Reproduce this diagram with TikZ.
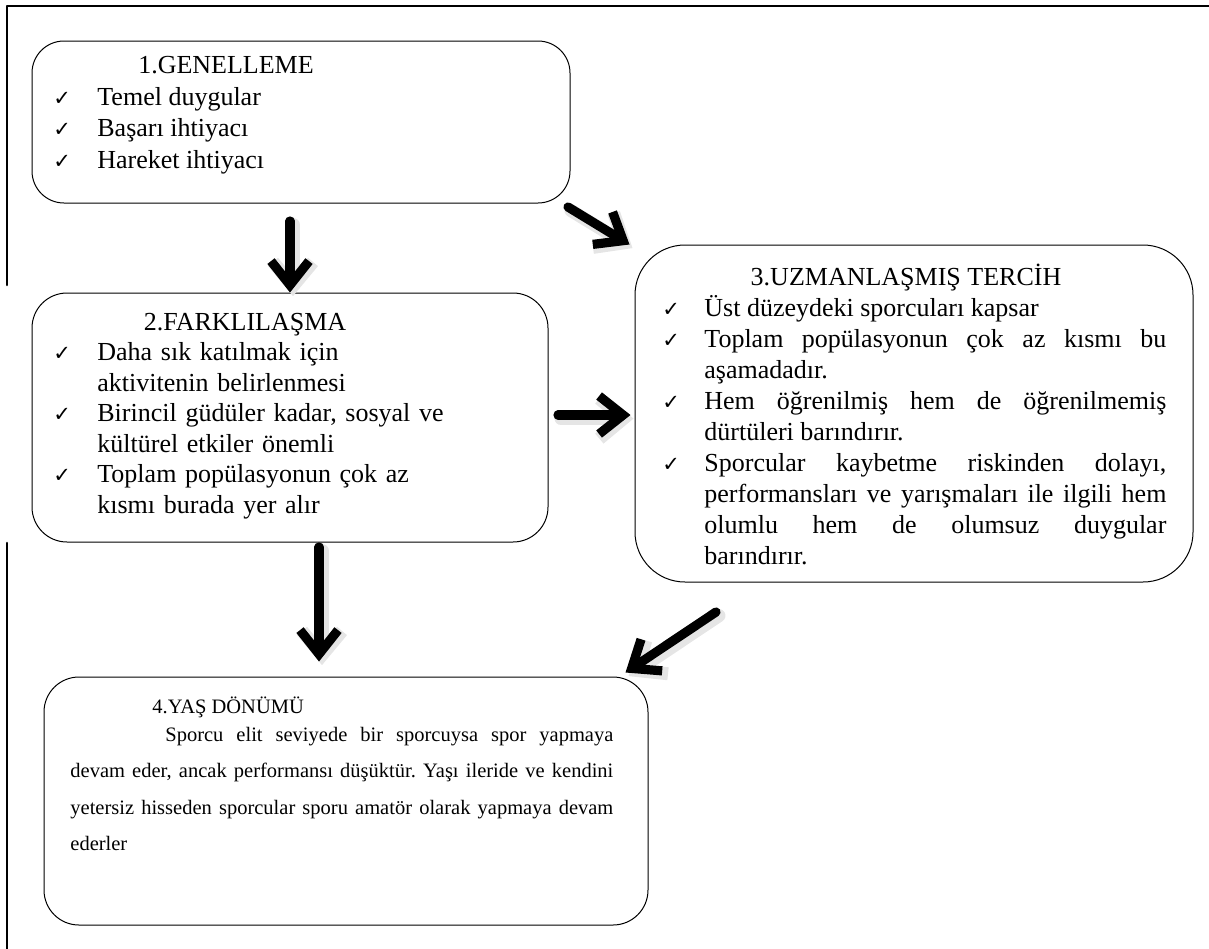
\documentclass[tikz,border=0pt]{standalone}
\usepackage{fontspec}
\setmainfont{Liberation Serif}
\newfontfamily\chkfont{DejaVu Sans}
\usetikzlibrary{arrows.meta}

\newcommand{\chk}{{\chkfont\fontsize{10.5}{10.5}\selectfont ✓}}
\newcommand{\fatarrow}[3][]{%
  \draw[arrowshadow,#1] #2 -- #3;
  \draw[arrowbody,#1] #2 -- #3;}

\begin{document}
\frenchspacing
\begin{tikzpicture}[x=0.5pt,y=-0.5pt,line cap=round,line join=round,
  box/.style={draw,line width=0.5pt,rounded corners=#1,inner sep=0pt},
  txt/.style={inner sep=0pt,font=\fontsize{13}{15.5}\selectfont},
  chkmark/.style={inner sep=0pt,anchor=base west},
  arrowbody/.style={line width=4.6pt,-{Straight Barb[length=12pt,width=19pt]}},
  arrowshadow/.style={line width=6.5pt,draw=black!10,-{Straight Barb[length=12pt,width=20pt]},
    transform canvas={shift={(1.5pt,-1.8pt)}}}]
  \useasboundingbox (0,0) rectangle (1209,948);
  \draw[line width=1.3pt] (7,285) -- (7,6) -- (1212,6);
  \draw[line width=1.3pt] (7,543) -- (7,950);

  \node[box=16pt,minimum width=269pt,minimum height=81pt] (box1) at (301,122) {};
  \node[box=17.5pt,minimum width=258pt,minimum height=124.5pt] (box2) at (290,417.5) {};
  \node[box=25pt,minimum width=279pt,minimum height=168.5pt] (box3) at (914,413.5) {};
  \node[box=17.5pt,minimum width=302pt,minimum height=124pt] (box4) at (346,801) {};

  % 1.GENELLEME
  \node[txt,anchor=base] (t1) at (226,73) {1.GENELLEME};
  \foreach \y/\s [count=\i] in {105/{Temel duygular},136/{Başarı ihtiyacı},168/{Hareket ihtiyacı}}{
    \node[chkmark] (c1\i) at (53,\y) {\chk};
    \node[txt,anchor=base west] (i1\i) at (97,\y) {\s};
  }

  % 2.FARKLILAŞMA
  \node[txt,anchor=base] (t2) at (245,330) {2.FARKLILAŞMA};
  \foreach \y/\s [count=\i] in {360/{Daha sık katılmak için\\aktivitenin belirlenmesi},
      421/{Birincil güdüler kadar, sosyal ve\\kültürel etkiler önemli},
      482/{Toplam popülasyonun çok az\\kısmı burada yer alır}}{
    \node[chkmark] (c2\i) at (53,\y) {\chk};
    \node[txt,anchor=base west,text width=215pt,align=left] (i2\i) at (97,\y) {\s};
  }

  % 3.UZMANLAŞMIŞ TERCİH
  \node[txt,anchor=base] (t3) at (906,285) {3.UZMANLAŞMIŞ TERCİH};
  \foreach \y/\s [count=\i] in {316/{Üst düzeydeki sporcuları kapsar},
      347/{Toplam popülasyonun çok az kısmı bu\linebreak aşamadadır.},
      409/{Hem öğrenilmiş hem de öğrenilmemiş\linebreak dürtüleri barındırır.},
      471/{Sporcular kaybetme riskinden dolayı,\linebreak performansları ve yarışmaları ile ilgili hem\linebreak olumlu hem de olumsuz duygular\linebreak barındırır.}}{
    \node[chkmark] (c3\i) at (662,\y) {\chk};
    \node[txt,anchor=base west,text width=231pt,align=justify] (i3\i) at (704,\y) {\s};
  }

  % 4.YAŞ DÖNÜMÜ
  \node[inner sep=0pt,anchor=base west,font=\fontsize{10.25}{12}\selectfont] (t4) at (152,713) {4.YAŞ DÖNÜMÜ};
  \node[inner sep=0pt,anchor=base west,text width=271.5pt,align=justify,
    font=\fontsize{10.25}{18.25}\selectfont] (p4) at (70,741)
    {\hspace*{47.5pt}Sporcu elit seviyede bir sporcuysa spor yapmaya\linebreak
     devam eder, ancak performansı düşüktür. Yaşı ileride ve kendini\linebreak
     yetersiz hisseden sporcular sporu amatör olarak yapmaya devam\linebreak
     ederler};

  \coordinate (a12) at (290,221);
  \coordinate (a13) at (568,207);
  \coordinate (a23) at (558,415);
  \coordinate (a24) at (319,547);
  \coordinate (a34) at (716,612);
  \fatarrow{(a12)}{(a12 |- box2.north)}
  \fatarrow{(a13)}{([xshift=-2.5pt]box3.north west)}
  \fatarrow[shorten >=2pt]{(a23)}{(a23 -| box3.west)}
  \fatarrow[shorten >=7.5pt]{(a24)}{(a24 |- box4.north)}
  \fatarrow{(a34)}{([shift={(-23,-4)}]box4.north east)}
\end{tikzpicture}
\end{document}
